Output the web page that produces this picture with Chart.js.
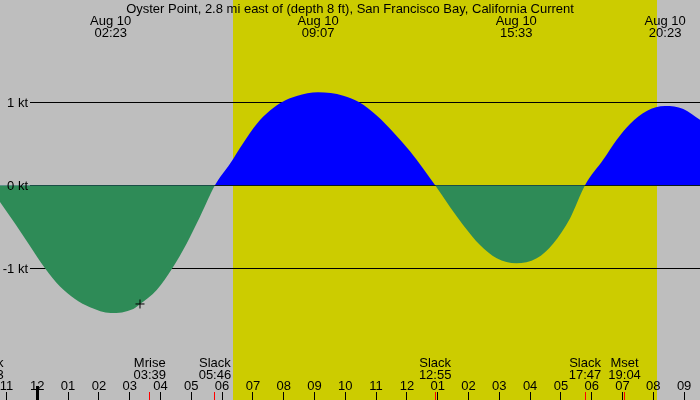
<!DOCTYPE html>
<html>
<head>
<meta charset="utf-8">
<script src="https://cdn.jsdelivr.net/npm/chart.js@4"></script>
<style>
  html, body { margin: 0; padding: 0; background: #bebebe; }
  canvas { display: block; }
</style>
</head>
<body>
<canvas id="tideChart" width="700" height="400"></canvas>
<script>
// hours since midnight Aug 10, current in knots
var hours  = [-1.617, -1.211, -0.724, -0.237, 0.250, 0.737, 1.224, 1.711, 2.383, 3.117, 3.334, 3.877, 4.383, 4.851, 5.282, 5.767,
              6.256, 6.688, 7.123, 7.555, 7.935, 8.422, 9.117, 9.935, 10.455, 11.019, 11.558, 12.101, 12.532, 12.917,
              13.399, 13.831, 14.373, 14.916, 15.55, 16.214, 16.753, 17.295, 17.783,
              18.377, 18.812, 19.244, 19.786, 20.383, 20.974, 21.516];
var speeds = [0, -0.20, -0.46, -0.73, -1.00, -1.22, -1.37, -1.47, -1.54, -1.49, -1.43, -1.26, -1.00, -0.70, -0.38, 0,
              0.26, 0.51, 0.74, 0.90, 1.00, 1.075, 1.12, 1.08, 1.00, 0.84, 0.64, 0.41, 0.20, 0,
              -0.26, -0.48, -0.72, -0.88, -0.94, -0.88, -0.70, -0.40, 0,
              0.31, 0.55, 0.74, 0.895, 0.955, 0.92, 0.79];

var title = "Oyster Point, 2.8 mi east of (depth 8 ft), San Francisco Bay, California Current";

var extremeTimes  = [2.383, 9.117, 15.55, 20.383];
var extremeDates  = ["Aug 10", "Aug 10", "Aug 10", "Aug 10"];
var extremeLabels = ["02:23", "09:07", "15:33", "20:23"];

var eventTimes  = [-1.617, 3.65, 5.767, 12.917, 17.783, 19.067];
var eventNames  = ["Slack", "Mrise", "Slack", "Slack", "Slack", "Mset"];
var eventLabels = ["22:23", "03:39", "05:46", "12:55", "17:47", "19:04"];

var hourTicks  = [-1, 0, 1, 2, 3, 4, 5, 6, 7, 8, 9, 10, 11, 12, 13, 14, 15, 16, 17, 18, 19, 20, 21];
var hourLabels = ["11", "12", "01", "02", "03", "04", "05", "06", "07", "08", "09", "10",
                  "11", "12", "01", "02", "03", "04", "05", "06", "07", "08", "09"];

var levelValues = [1, 0, -1];
var levelLabels = ["1 kt", "0 kt", "-1 kt"];

var daylight = [6.354, 20.12];
var markHour = 3.334, markSpeed = -1.43;

var FONT = "13px 'Liberation Sans', Arial, sans-serif";

var backdrop = {
  id: "backdrop",
  beforeDraw: function(chart) {
    var c = chart.ctx, x = chart.scales.x;
    c.save();
    c.fillStyle = "#bebebe";
    c.fillRect(0, 0, chart.width, chart.height);
    var x0 = Math.round(x.getPixelForValue(daylight[0])), x1 = Math.round(x.getPixelForValue(daylight[1]));
    c.fillStyle = "#cccc00";
    c.fillRect(x0, 0, x1 - x0, chart.height);
    c.restore();
  },
  beforeDatasetsDraw: function(chart) {
    var c = chart.ctx, y = chart.scales.y;
    c.save();
    c.strokeStyle = "#000";
    c.lineWidth = 1;
    levelValues.forEach(function(v) {
      var py = Math.floor(y.getPixelForValue(v)) + 0.5;
      c.beginPath();
      c.moveTo(30, py);
      c.lineTo(chart.width, py);
      c.stroke();
    });
    c.restore();
  }
};

var labels = {
  id: "labels",
  afterDatasetsDraw: function(chart) {
    var c = chart.ctx, x = chart.scales.x, y = chart.scales.y;
    c.save();
    c.font = FONT;
    c.fillStyle = "#000";
    c.textBaseline = "alphabetic";

    c.textAlign = "center";
    c.fillText(title, 350, 12.5);

    extremeTimes.forEach(function(t, i) {
      var px = x.getPixelForValue(t);
      c.fillText(extremeDates[i], px, 24.5);
      c.fillText(extremeLabels[i], px, 36.5);
    });

    c.textAlign = "right";
    levelValues.forEach(function(v, i) {
      c.fillText(levelLabels[i], 28, y.getPixelForValue(v) + 4.5);
    });

    c.textAlign = "center";
    eventTimes.forEach(function(t, i) {
      var px = x.getPixelForValue(t);
      c.fillText(eventNames[i], px, 366.5);
      c.fillText(eventLabels[i], px, 378.5);
    });

    hourTicks.forEach(function(h, i) {
      var px = x.getPixelForValue(h);
      c.fillText(hourLabels[i], px, 390);
      if (h === 0) {
        c.fillRect(Math.round(px) - 1, 386, 3, 14);
      } else {
        c.fillRect(Math.floor(px), 392, 1, 8);
      }
    });

    c.fillStyle = "#ff0000";
    eventTimes.forEach(function(t) {
      var px = x.getPixelForValue(t);
      c.fillRect(Math.floor(px), 392, 1, 8);
    });
    c.restore();
  }
};

var ctx = document.getElementById("tideChart").getContext("2d");
new Chart(ctx, {
  type: "line",
  data: {
    datasets: [
      {
        order: 2,
        data: hours.map(function(h, i) { return { x: h, y: speeds[i] }; }),
        borderColor: "rgba(0,0,0,0)",
        borderWidth: 0,
        pointRadius: 0,
        cubicInterpolationMode: "monotone",
        fill: { target: { value: 0 }, above: "#0000ff", below: "#2e8b57" }
      },
      {
        order: 1,
        type: "scatter",
        data: [{ x: markHour, y: markSpeed }],
        pointStyle: "cross",
        pointRadius: 4.5,
        borderColor: "#000",
        borderWidth: 1
      }
    ]
  },
  options: {
    responsive: false,
    animation: false,
    devicePixelRatio: 1,
    layout: { padding: 0, autoPadding: false },
    plugins: { legend: { display: false }, tooltip: { enabled: false } },
    scales: {
      x: { type: "linear", min: -1.211, max: 21.516, display: false },
      y: { min: -2.587, max: 2.233, display: false }
    }
  },
  plugins: [backdrop, labels]
});
</script>
</body>
</html>
